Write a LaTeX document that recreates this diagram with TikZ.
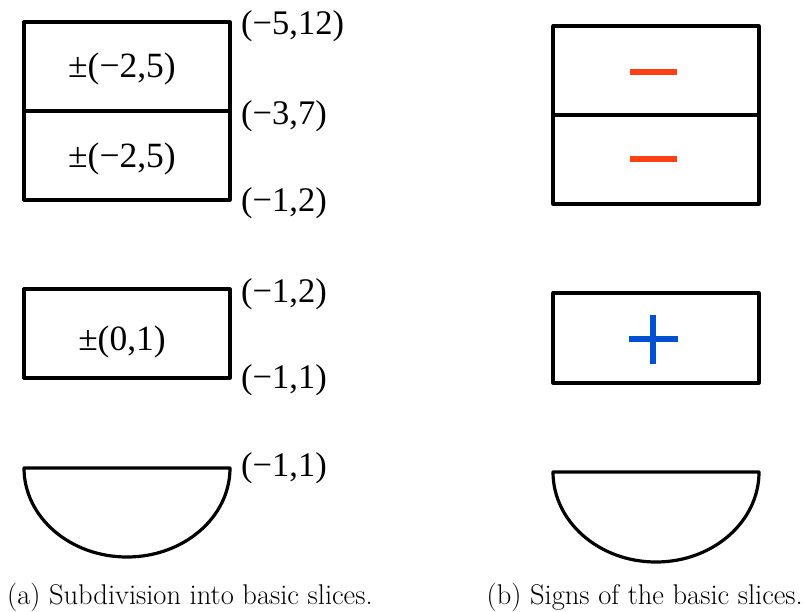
\documentclass[tikz,border=0pt]{standalone}
\usepackage{fontspec}
\newfontfamily\tms{Liberation Serif}
\definecolor{negred}{RGB}{255,64,20}
\definecolor{posblue}{RGB}{0,80,210}
\tikzset{
  slice/.style={draw=black,line width=3.2pt,line join=round,line cap=round},
  lbl/.style={inner sep=0pt,anchor=base west,font=\tms\fontsize{34.5}{34.5}\selectfont},
  inlbl/.style={inner sep=0pt,anchor=base,font=\tms\fontsize{35.5}{35.5}\selectfont},
  captext/.style={inner sep=0pt,font=\fontsize{28.5}{28.5}\selectfont},
  negbar/.style={draw=negred,line width=6pt},
  posbar/.style={draw=posblue,line width=5.5pt}
}
\begin{document}
\begin{tikzpicture}[x=1pt,y=1pt]
\useasboundingbox (0,0) rectangle (805,-612);
% left column
\draw[slice] (24,-22) rectangle (230,-200);
\draw[slice] (24,-111) -- (230,-111);
\draw[slice] (24,-289) rectangle (230,-378);
\draw[slice] (24,-468) -- (230,-468) arc[start angle=0,end angle=-180,x radius=103pt,y radius=89pt] -- cycle;
\node[inlbl] (a1) at (122,-78) {±(−2,5)};
\node[inlbl] (a2) at (122,-168) {±(−2,5)};
\node[inlbl] (a3) at (122,-350) {±(0,1)};
\node[lbl] (l1) at (241,-35) {(−5,12)};
\node[lbl] (l2) at (241,-125) {(−3,7)};
\node[lbl] (l3) at (241,-212) {(−1,2)};
\node[lbl] (l4) at (241,-302) {(−1,2)};
\node[lbl] (l5) at (241,-388) {(−1,1)};
\node[lbl] (l6) at (241,-476) {(−1,1)};
% right column
\draw[slice] (553,-26) rectangle (759,-204);
\draw[slice] (553,-115) -- (759,-115);
\draw[slice] (553,-293) rectangle (759,-383);
\draw[slice] (553,-472) -- (759,-472) arc[start angle=0,end angle=-180,x radius=103pt,y radius=90pt] -- cycle;
\coordinate (m1a) at (630,-72); \coordinate (m1b) at (677,-72);
\coordinate (m2a) at (630,-159); \coordinate (m2b) at (677,-159);
\draw[negbar] (m1a) -- (m1b);
\draw[negbar] (m2a) -- (m2b);
\coordinate (pha) at (629,-339); \coordinate (phb) at (678,-339);
\coordinate (pva) at (653,-315); \coordinate (pvb) at (653,-364);
\draw[posbar] (pha) -- (phb);
\draw[posbar] (pva) -- (pvb);
% captions
\node[captext,anchor=base west] (capa) at (7,-604) {(a) Subdivision into basic slices.};
\node[captext,anchor=base east] (capb) at (803,-604) {(b) Signs of the basic slices.};
\end{tikzpicture}
\end{document}
